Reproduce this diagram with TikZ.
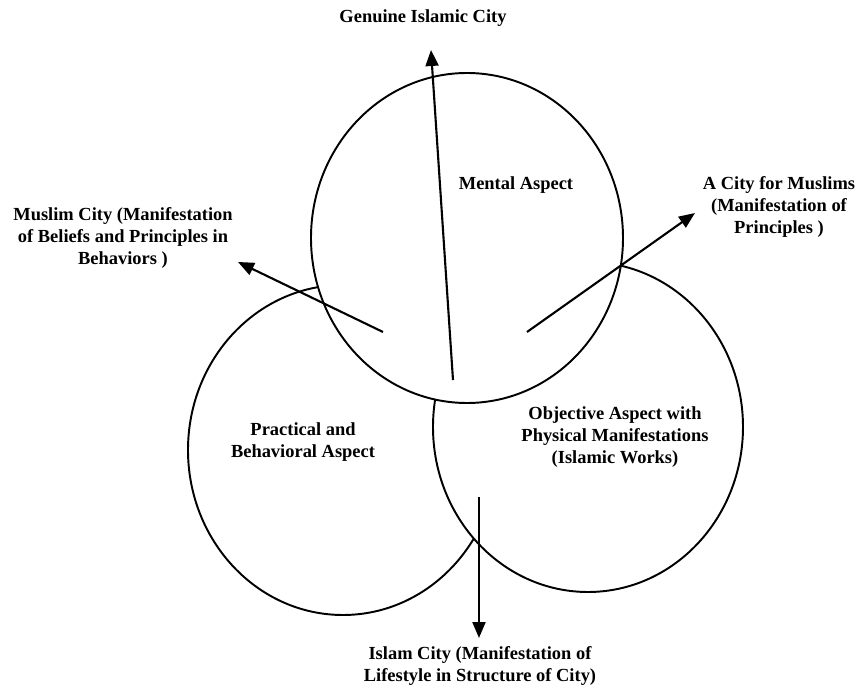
\documentclass[tikz,border=0pt]{standalone}
\usepackage{fontspec}
\setmainfont{Liberation Serif}
\usetikzlibrary{arrows.meta}

\begin{document}
\begin{tikzpicture}[x=0.02cm, y=-0.02cm,
  ring/.style={fill=white, draw=black, line width=1.1pt},
  lbl/.style={font=\fontsize{10.5}{12.3}\selectfont\bfseries, align=center, inner sep=0pt},
  pointer/.style={line width=1.2pt, -{Triangle[length=0.32cm, width=0.26cm]}}]
  \useasboundingbox (0,0) rectangle (860,689);

  % Circles (back to front)
  \draw[ring] (343,450) ellipse [x radius=155, y radius=165];
  \draw[ring] (588,427) ellipse [x radius=155, y radius=165];
  \draw[ring] (467,238) ellipse [x radius=156, y radius=165];

  % Aspect labels
  \node[lbl] (mental) at (516,185) {Mental Aspect};
  \node[lbl] (practical) at (303,442) {Practical and\\Behavioral Aspect};
  \node[lbl] (objective) at (615,437) {Objective Aspect with\\Physical Manifestations\\(Islamic Works)};

  % City labels
  \node[lbl] (genuine) at (423,18) {Genuine Islamic City};
  \node[lbl] (muslim) at (123,238) {Muslim City (Manifestation\\of Beliefs and Principles in\\Behaviors )};
  \node[lbl] (formuslims) at (779,207) {A City for Muslims\\(Manifestation of\\Principles )};
  \node[lbl] (islam) at (480,666) {Islam City (Manifestation of\\Lifestyle in Structure of City)};

  % Arrow ends
  \coordinate (up0) at (453,380);
  \coordinate (up1) at (431,50);
  \coordinate (left0) at (383,332);
  \coordinate (left1) at (238,262);
  \coordinate (right0) at (527,332);
  \coordinate (right1) at (695,213);
  \coordinate (down0) at (479,497);
  \coordinate (down1) at (479,638);

  % Arrows
  \draw[pointer] (up0) -- (up1);
  \draw[pointer] (left0) -- (left1);
  \draw[pointer] (right0) -- (right1);
  \draw[pointer] (down0) -- (down1);
\end{tikzpicture}
\end{document}
